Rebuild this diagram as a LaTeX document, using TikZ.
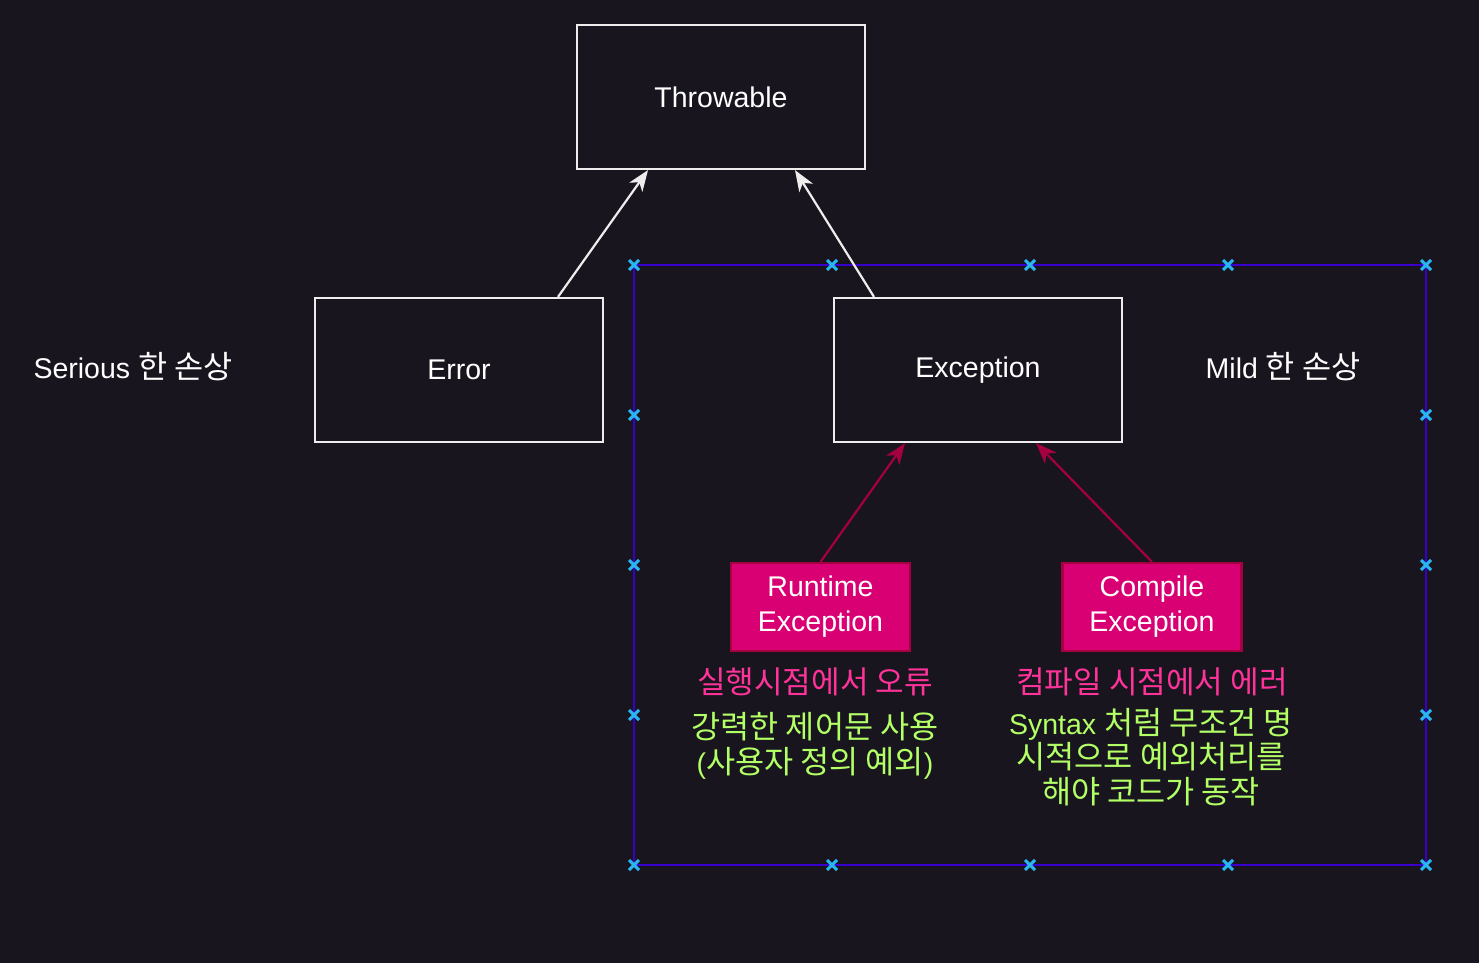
\documentclass[tikz,border=0pt]{standalone}
\usepackage{fontspec}
\setmainfont{Liberation Sans}
\newfontfamily\kr[Scale=1.11]{Noto Sans CJK KR}
\usetikzlibrary{arrows.meta}
\definecolor{bgc}{RGB}{24,21,31}
\definecolor{purp}{RGB}{55,0,204}
\definecolor{hdl}{RGB}{41,182,242}
\definecolor{pinkfill}{RGB}{216,0,115}
\definecolor{pinkline}{RGB}{165,0,64}
\definecolor{pinktxt}{RGB}{255,51,153}
\definecolor{greentxt}{RGB}{179,255,102}
\tikzset{
  wbox/.style={draw=white!93!black, line width=2.2pt, minimum width=288pt, minimum height=144pt, text=white, font=\fontsize{28.5}{34}\selectfont},
  pbox/.style={draw=pinkline, fill=pinkfill, line width=2.2pt, minimum width=179pt, minimum height=88pt, text=white, align=center, font=\fontsize{28.5}{35}\selectfont},
  warrow/.style={draw=white!93!black, line width=2.2pt, -{Stealth[length=21pt,width=16pt,inset=6pt]}},
  parrow/.style={draw=pinkline, line width=2.2pt, -{Stealth[length=21pt,width=16pt,inset=6pt]}},
  lbl/.style={text=white, font=\fontsize{28.5}{34}\selectfont, inner sep=0pt},
  ptxt/.style={text=pinktxt, font=\fontsize{28}{34}\selectfont\kr, inner sep=0pt, align=center},
  gtxt/.style={text=greentxt, font=\fontsize{28.5}{34.5}\selectfont, inner sep=0pt, align=center},
  handle/.style={draw=hdl, line width=3pt}
}
\newcommand{\hx}[2]{\draw[handle] (#1-5,#2-5) -- (#1+5,#2+5) (#1-5,#2+5) -- (#1+5,#2-5);}
\begin{document}
\begin{tikzpicture}[x=1pt,y=-1pt]
\useasboundingbox (0,0) rectangle (1479,963);
\fill[bgc] (0,0) rectangle (1479,963);
% selection frame
\draw[purp, line width=2.5pt] (634,265) rectangle (1426,865);
\foreach \x in {634,832,1030,1228,1426} {\hx{\x}{265}\hx{\x}{865}}
\foreach \y in {415,565,715} {\hx{634}{\y}\hx{1426}{\y}}
% nodes
\node[wbox] (thr) at (721,97) {Throwable};
\node[wbox] (err) at (459,370) {Error};
\node[wbox] (exc) at (978,370) {Exception};
\node[pbox] (rte) at (820.5,607) {Runtime\\Exception};
\node[pbox] (cpe) at (1152,607) {Compile\\Exception};
% labels
\node[lbl] (ser) at (133,367) {Serious {\kr 한 손상}};
\node[lbl] (mild) at (1283,367) {Mild {\kr 한 손상}};
\node[ptxt] (rtp) at (815,682) {실행시점에서 오류};
\node[gtxt] (rtg) at (815,746) {{\kr 강력한 제어문 사용}\\{(\kr 사용자 정의 예외})};
\node[ptxt] (cpp) at (1152,682) {컴파일 시점에서 에러};
\node[gtxt] (cpg) at (1151,757) {Syntax {\kr 처럼 무조건 명}\\{\kr 시적으로 예외처리를}\\{\kr 해야 코드가 동작}};
% connectors
\draw[warrow] ([xshift=99pt]err.north) -- ([xshift=-73pt]thr.south);
\draw[warrow] ([xshift=-104pt]exc.north) -- ([xshift=74pt]thr.south);
\draw[parrow] (rte.north) -- ([xshift=-73pt]exc.south);
\draw[parrow] (cpe.north) -- ([xshift=58pt]exc.south);
\end{tikzpicture}
\end{document}
